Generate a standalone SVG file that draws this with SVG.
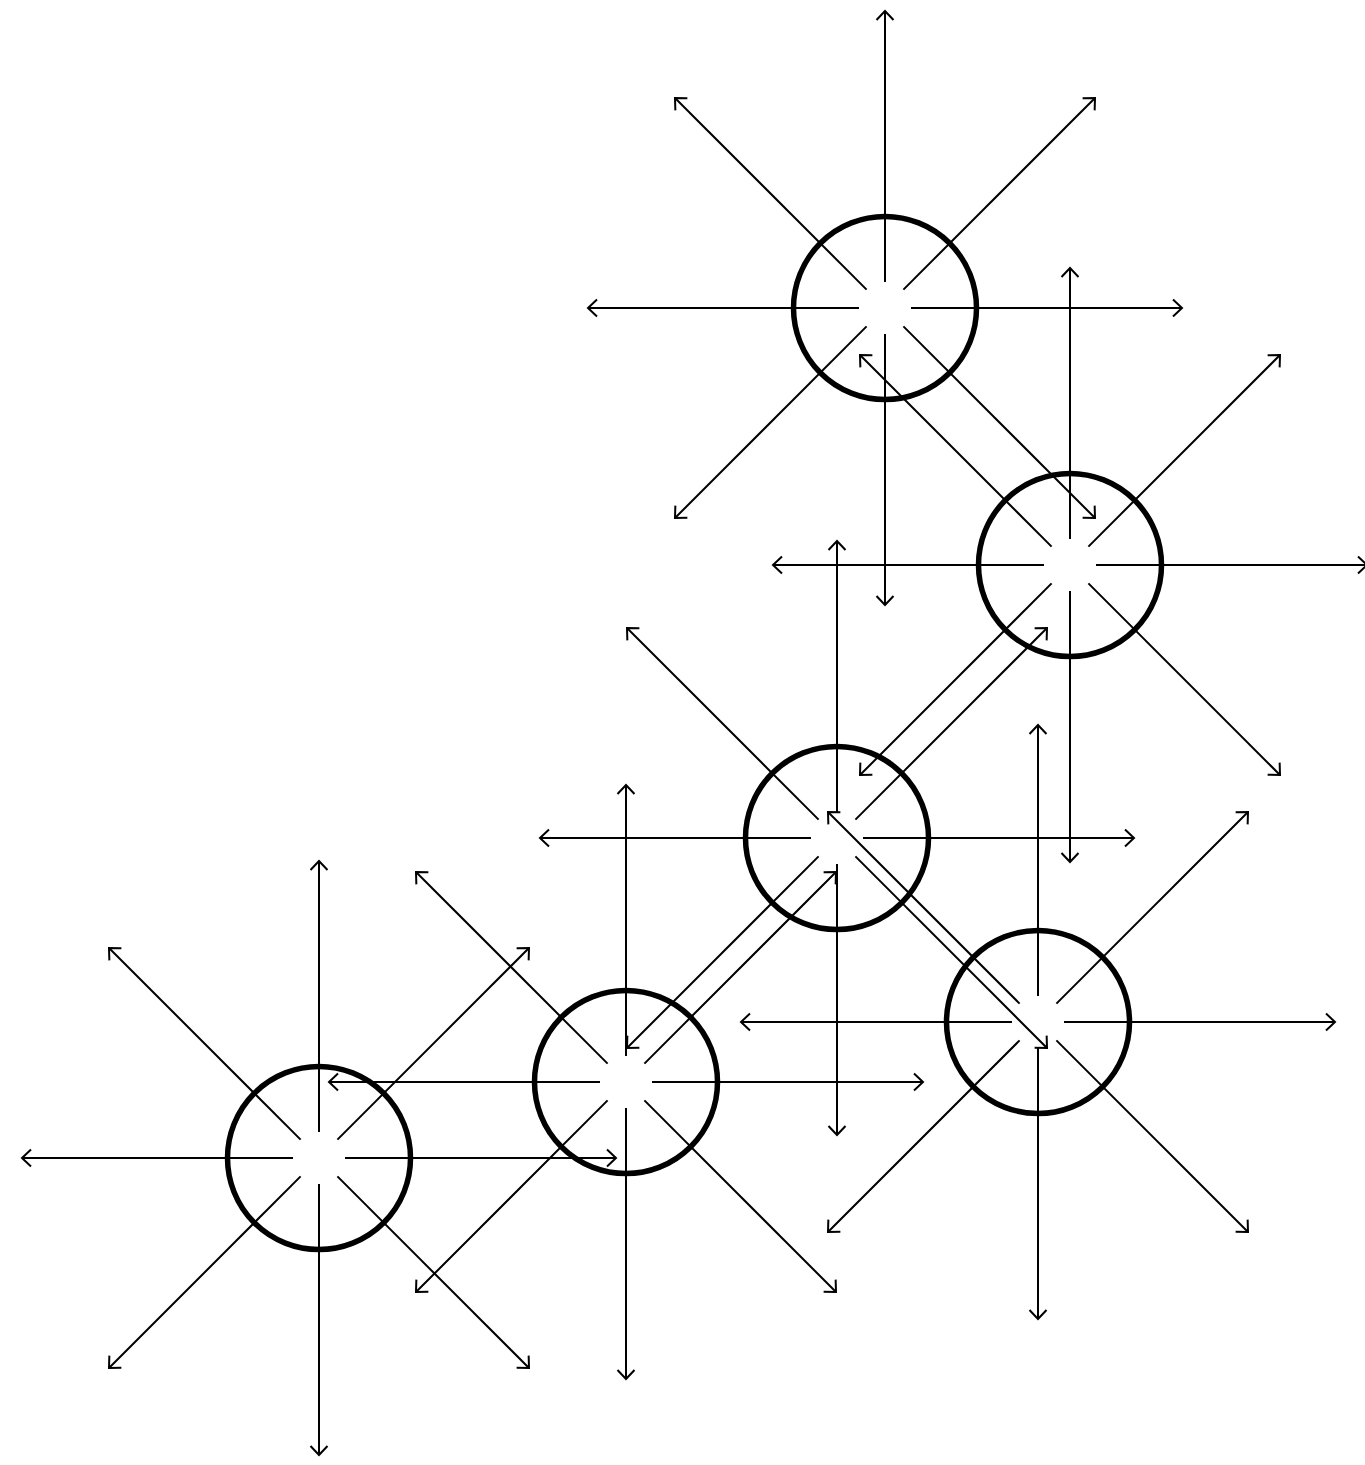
<svg xmlns="http://www.w3.org/2000/svg" xmlns:xlink="http://www.w3.org/1999/xlink" width="1365" height="1465" viewBox="0 0 1365 1465">
<style>
.node{fill:none;stroke:#000;stroke-width:5.5}
.arr{stroke:#000;stroke-width:2;fill:none;marker-end:url(#ah)}
</style>
<defs>
<marker id="ah" markerUnits="userSpaceOnUse" markerWidth="24" markerHeight="24" viewBox="-12 -12 24 24" refX="0" refY="0" orient="auto" overflow="visible">
<path d="M-9,-8.5 L0,0 L-9,8.5" fill="none" stroke="#000" stroke-width="2"/>
</marker>
<g id="star">
<line class="arr" x1="0" y1="-26" x2="0" y2="-297"/>
<line class="arr" x1="0" y1="26" x2="0" y2="297"/>
<line class="arr" x1="-26" y1="0" x2="-297" y2="0"/>
<line class="arr" x1="26" y1="0" x2="297" y2="0"/>
<line class="arr" x1="-18.4" y1="-18.4" x2="-210" y2="-210"/>
<line class="arr" x1="18.4" y1="-18.4" x2="210" y2="-210"/>
<line class="arr" x1="-18.4" y1="18.4" x2="-210" y2="210"/>
<line class="arr" x1="18.4" y1="18.4" x2="210" y2="210"/>
</g>
</defs>
<rect width="1365" height="1465" fill="#fff"/>
<g id="connectors">
<use xlink:href="#star" href="#star" transform="translate(885,308)"/>
<use xlink:href="#star" href="#star" transform="translate(1070,565)"/>
<use xlink:href="#star" href="#star" transform="translate(837,838)"/>
<use xlink:href="#star" href="#star" transform="translate(1038,1022)"/>
<use xlink:href="#star" href="#star" transform="translate(626,1082)"/>
<use xlink:href="#star" href="#star" transform="translate(319,1158)"/>
</g>
<g id="node1"><circle class="node" cx="885" cy="308" r="91.5"/></g>
<g id="node2"><circle class="node" cx="1070" cy="565" r="91.5"/></g>
<g id="node3"><circle class="node" cx="837" cy="838" r="91.5"/></g>
<g id="node4"><circle class="node" cx="1038" cy="1022" r="91.5"/></g>
<g id="node5"><circle class="node" cx="626" cy="1082" r="91.5"/></g>
<g id="node6"><circle class="node" cx="319" cy="1158" r="91.5"/></g>
</svg>
